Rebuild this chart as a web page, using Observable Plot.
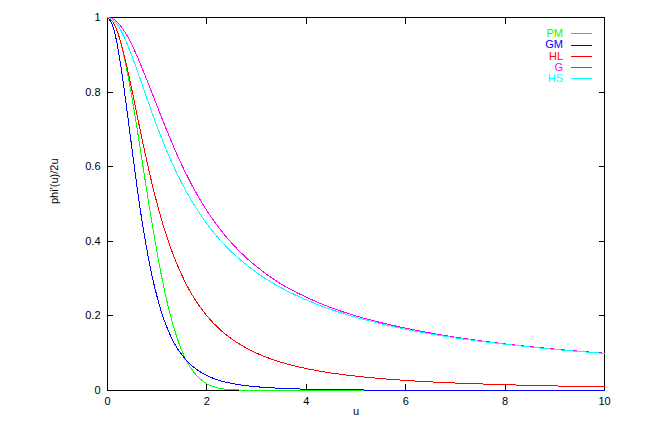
<!DOCTYPE html>
<html>
<head>
<meta charset="utf-8">
<script src="https://cdn.jsdelivr.net/npm/d3@7"></script>
<script src="https://cdn.jsdelivr.net/npm/@observablehq/plot@0.6"></script>
<style>
  html, body { margin: 0; padding: 0; background: #fff; }
  svg path, svg line { shape-rendering: crispEdges; }
</style>
</head>
<body>
<div id="chart"></div>
<script>
// sample positions along u
const u = [0, 0.1, 0.2, 0.3, 0.4, 0.5, 0.6, 0.7, 0.8, 0.9, 1.0, 1.1, 1.2, 1.3, 1.4, 1.5, 1.6, 1.7, 1.8, 1.9, 2.0,
           2.25, 2.5, 2.75, 3, 3.5, 4, 4.5, 5, 5.5, 6, 7, 8, 9, 10];
const pm = [1, 0.990, 0.961, 0.914, 0.852, 0.779, 0.698, 0.613, 0.527, 0.445, 0.368, 0.298, 0.237, 0.185, 0.141, 0.105,
            0.077, 0.056, 0.039, 0.027, 0.018, 0.006, 0.002, 0.001, 0, 0, 0, 0, 0, 0, 0, 0, 0, 0, 0];
const gm = [1, 0.980, 0.925, 0.841, 0.743, 0.640, 0.540, 0.450, 0.372, 0.305, 0.250, 0.204, 0.168, 0.138, 0.114, 0.095,
            0.079, 0.066, 0.056, 0.047, 0.040, 0.027, 0.019, 0.0136, 0.010, 0.0057, 0.0035, 0.0022, 0.0015, 0.0010,
            0.0007, 0.0004, 0.0002, 0.00015, 0.0001];
const hl = [1, 0.990, 0.962, 0.917, 0.862, 0.800, 0.735, 0.671, 0.610, 0.552, 0.500, 0.452, 0.410, 0.372, 0.338, 0.308,
            0.281, 0.257, 0.236, 0.217, 0.200, 0.165, 0.138, 0.117, 0.100, 0.0755, 0.0588, 0.047, 0.0385, 0.032,
            0.027, 0.020, 0.0154, 0.0122, 0.0099];
const gr = [1, 0.997, 0.987, 0.971, 0.950, 0.924, 0.895, 0.863, 0.830, 0.796, 0.762, 0.728, 0.695, 0.663, 0.632, 0.603,
            0.576, 0.550, 0.526, 0.503, 0.482, 0.435, 0.395, 0.361, 0.332, 0.285, 0.250, 0.222, 0.200, 0.182,
            0.167, 0.143, 0.125, 0.111, 0.100];
const hs = [1, 0.995, 0.981, 0.958, 0.928, 0.894, 0.857, 0.819, 0.781, 0.743, 0.707, 0.673, 0.640, 0.610, 0.581, 0.555,
            0.530, 0.507, 0.486, 0.466, 0.447, 0.406, 0.371, 0.342, 0.316, 0.275, 0.243, 0.217, 0.196, 0.179,
            0.164, 0.141, 0.124, 0.110, 0.0995];

const seriesNames = ["PM", "GM", "HL", "G", "HS"];
const seriesColors = ["#00ff00", "#0000ff", "#ff0000", "#ff00ff", "#00ffff"];
const seriesValues = [pm, gm, hl, gr, hs];
const xTicks = [0, 2, 4, 6, 8, 10];
const yTicks = [0, 0.2, 0.4, 0.6, 0.8, 1];
const xLabel = "u";
const yLabel = "phi'(u)/2u";

const rows = seriesNames.flatMap((name, i) => u.map((x, j) => ({series: name, u: x, v: seriesValues[i][j]})));

const FONT = "'Liberation Sans', Arial, sans-serif";

function legend(index, scales, values, dims) {
  const g = d3.create("svg:g").attr("font-family", FONT).attr("font-size", 11);
  const right = dims.width - dims.marginRight;
  seriesNames.forEach((name, i) => {
    const y = dims.marginTop + 16.3 + i * 11.2;
    g.append("text").attr("x", right - 41).attr("y", y).attr("dy", "0.35em")
      .attr("text-anchor", "end").attr("fill", seriesColors[i]).text(name);
    g.append("line").attr("x1", right - 33).attr("x2", right - 12).attr("y1", Math.round(y) + 0.5).attr("y2", Math.round(y) + 0.5)
      .attr("stroke", seriesColors[i]).attr("stroke-width", 1);
  });
  return g.node();
}

const chart = Plot.plot({
  width: 645,
  height: 431,
  marginLeft: 107,
  marginRight: 41,
  marginTop: 17,
  marginBottom: 41,
  style: {fontFamily: FONT, fontSize: "11px", background: "#fff", color: "#000"},
  x: {domain: [0, 10]},
  y: {domain: [0, 1]},
  color: {domain: seriesNames, range: seriesColors},
  marks: [
    Plot.frame({stroke: "#000", strokeWidth: 1}),
    Plot.axisX({ticks: xTicks, anchor: "bottom", tickSize: -6, tickFormat: () => "", label: null}),
    Plot.axisX({ticks: xTicks, anchor: "top", tickSize: -6, tickFormat: () => "", label: null}),
    Plot.axisY({ticks: yTicks, anchor: "left", tickSize: -6, tickFormat: () => "", label: null}),
    Plot.axisY({ticks: yTicks, anchor: "right", tickSize: -6, tickFormat: () => "", label: null}),
    Plot.axisX({ticks: xTicks, anchor: "bottom", tickSize: 0, tickPadding: 7, tickFormat: d => String(d), label: null}),
    Plot.axisY({ticks: yTicks, anchor: "left", tickSize: 0, tickPadding: 7, tickFormat: d => String(d), label: null}),
    Plot.line(rows, {x: "u", y: "v", z: "series", stroke: "series", strokeWidth: 1, curve: "monotone-x"}),
    Plot.text([xLabel], {frameAnchor: "bottom", dy: 24, text: d => d}),
    Plot.text([yLabel], {frameAnchor: "left", dx: -53, rotate: -90, text: d => d}),
    legend
  ]
});
document.getElementById("chart").appendChild(chart);
</script>
</body>
</html>
